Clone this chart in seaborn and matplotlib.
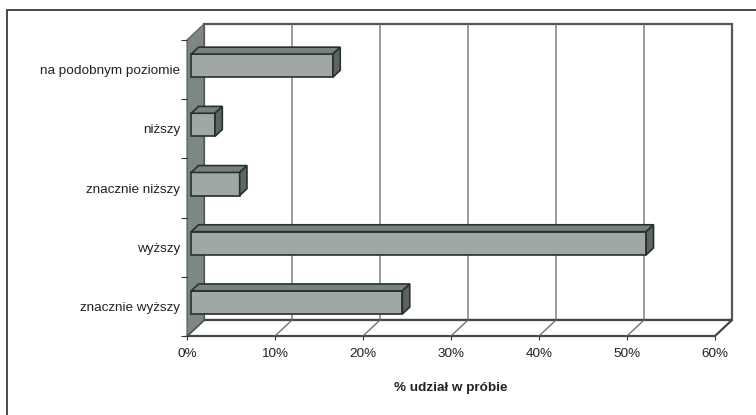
import numpy as np
import matplotlib
matplotlib.use('Agg')
import matplotlib.pyplot as plt
import seaborn as sns
from matplotlib.patches import Polygon, Rectangle
from matplotlib.transforms import ScaledTranslation

# data (% share in the sample)
categories = ['na podobnym poziomie', 'niższy', 'znacznie niższy', 'wyższy', 'znacznie wyższy']
shares = [16.1, 2.7, 5.5, 51.7, 24.0]
x_ticks = [0, 10, 20, 30, 40, 50, 60]
x_labels = [f'{v}%' for v in x_ticks]

FRONT = '#a0a8a4'
TOP = '#77817d'
SIDE = '#5b6661'
WALL = '#7d8883'
EDGE = '#2a302d'
DEPTH = np.array([17.0, 16.0])  # pixel offset of the back wall
BAR_D0, BAR_D1 = 0.25, 0.68     # depth range of the bars

sns.set_theme(style='white')
plt.rcParams['font.family'] = ['Liberation Sans', 'DejaVu Sans']

fig = plt.figure(figsize=(7.56, 4.15), dpi=100)
ax = fig.add_axes([187 / 756, 79 / 415, 528 / 756, 296 / 415])

sns.barplot(x=shares, y=categories, orient='h', width=0.39, color=FRONT,
            saturation=1, edgecolor=EDGE, linewidth=1.2, ax=ax, zorder=3)
ax.set_xlim(0, 60)
ax.set_ylim(4.5, -0.5)
ax.set_facecolor('none')
for s in ax.spines.values():
    s.set_visible(False)

inv = fig.transFigure.inverted()


def pt(x, y, d):
    p = ax.transData.transform((x, y)) + d * DEPTH
    return inv.transform(p)


top, bot = -0.5, 4.5
kw = dict(transform=fig.transFigure, clip_on=False)

# back wall
ax.add_patch(Polygon([pt(0, bot, 1), pt(60, bot, 1), pt(60, top, 1), pt(0, top, 1)],
                     fc='white', ec='#555555', lw=1.6, zorder=0.1, **kw))
# floor
ax.add_patch(Polygon([pt(0, bot, 0), pt(60, bot, 0), pt(60, bot, 1), pt(0, bot, 1)],
                     fc='white', ec='#444444', lw=1.6, zorder=0.3, **kw))
# gridlines on floor and back wall
for v in x_ticks[1:-1]:
    pts = np.array([pt(v, bot, 0), pt(v, bot, 1), pt(v, top, 1)])
    ax.plot(pts[:, 0], pts[:, 1], color='#666666', lw=0.9, zorder=0.35, **kw)
# left side wall
ax.add_patch(Polygon([pt(0, bot, 0), pt(0, top, 0), pt(0, top, 1), pt(0, bot, 1)],
                     fc=WALL, ec='#555555', lw=0.8, zorder=0.5, **kw))

# 3D look for bars
shift = ScaledTranslation(BAR_D0 * DEPTH[0] / 100, BAR_D0 * DEPTH[1] / 100, fig.dpi_scale_trans)
for bar in list(ax.patches):
    if bar.get_zorder() != 3:
        continue
    x0 = bar.get_x()
    x1 = x0 + bar.get_width()
    y0 = bar.get_y()
    y1 = y0 + bar.get_height()
    up, low = min(y0, y1), max(y0, y1)
    bar.set_transform(ax.transData + shift)
    ax.add_patch(Polygon([pt(x0, up, BAR_D0), pt(x1, up, BAR_D0), pt(x1, up, BAR_D1), pt(x0, up, BAR_D1)],
                         fc=TOP, ec=EDGE, lw=1.2, zorder=3.1, **kw))
    ax.add_patch(Polygon([pt(x1, up, BAR_D0), pt(x1, low, BAR_D0), pt(x1, low, BAR_D1), pt(x1, up, BAR_D1)],
                         fc=SIDE, ec=EDGE, lw=1.2, zorder=3.1, **kw))

# ticks
ax.set_yticks(range(len(categories)))
ax.set_yticklabels(categories, fontsize=9.7, color='#222222')
ax.set_yticks(np.arange(-0.5, 5, 1), minor=True)
ax.set_xticks(x_ticks)
ax.set_xticklabels(x_labels, fontsize=9.7, color='#222222')
ax.tick_params(axis='y', which='major', left=True, length=0, pad=5)
ax.tick_params(axis='y', which='minor', left=True, length=4, width=0.8, color='#333333')
ax.tick_params(axis='x', which='major', bottom=True, length=3, width=0.8, color='#333333', pad=5.5)
ax.set_ylabel('')
ax.set_xlabel('% udział w próbie', fontsize=9.7, fontweight='bold', color='#222222', va='center')
ax.xaxis.set_label_coords(0.5, (336 - 388) / 296)

# outer frame
fig.add_artist(Rectangle((7 / 756, -0.05), 1.1, 1 - 10 / 415 + 0.05, transform=fig.transFigure,
                         fill=False, ec='#3a3a3a', lw=1.3))

fig.savefig('out.png', dpi=100)
